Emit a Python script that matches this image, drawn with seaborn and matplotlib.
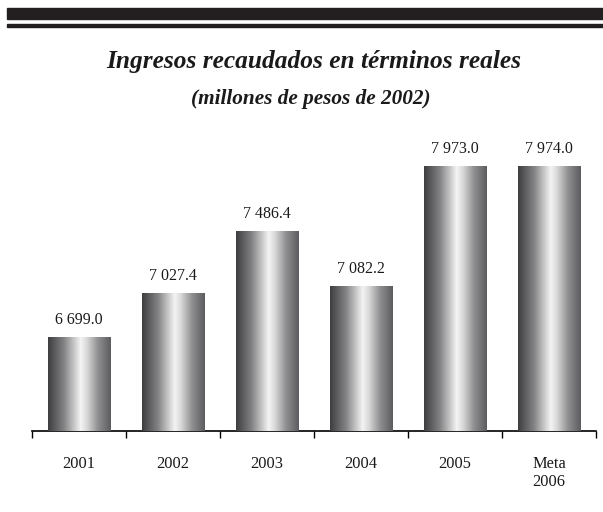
import numpy as np
import pandas as pd
import matplotlib
matplotlib.use("Agg")
import matplotlib.pyplot as plt
from matplotlib.colors import LinearSegmentedColormap
from matplotlib.patches import Rectangle
import seaborn as sns

# datos del grafico
categorias = ["2001", "2002", "2003", "2004", "2005", "Meta\n2006"]
ingresos = [6699.0, 7027.4, 7486.4, 7082.2, 7973.0, 7974.0]

titulo = "Ingresos recaudados en términos reales"
subtitulo = "(millones de pesos de 2002)"

df = pd.DataFrame({"anio": categorias, "ingresos": ingresos})

sns.set_theme(style="white")
plt.rcParams["font.family"] = ["Liberation Serif", "DejaVu Serif"]
plt.rcParams["text.color"] = "#1a1a1a"
plt.rcParams["xtick.color"] = "#1a1a1a"

fig = plt.figure(figsize=(6.03, 5.12), dpi=100)
W, H = 603, 512

# barras decorativas de la cabecera
fig.patches.append(Rectangle((7 / W, 1 - 19 / H), 596 / W, 11 / H,
                             transform=fig.transFigure, color="#231f20"))
fig.patches.append(Rectangle((7 / W, 1 - 27 / H), 596 / W, 3 / H,
                             transform=fig.transFigure, color="#231f20"))

fig.text(313.5 / W, 1 - 68 / H, titulo, ha="center", va="baseline",
         fontsize=18.3, fontweight="bold", fontstyle="italic")
fig.text(311 / W, 1 - 104 / H, subtitulo, ha="center", va="baseline",
         fontsize=15.3, fontweight="bold", fontstyle="italic")

ax = fig.add_axes([32 / W, 1 - 431 / H, 564 / W, 291 / H])
sns.barplot(data=df, x="anio", y="ingresos", color="#555555", width=0.66,
            ax=ax, saturation=1)

# degradado tipo cilindro
cmap = LinearSegmentedColormap.from_list(
    "cilindro",
    [(0.0, "#3e3e40"), (0.25, "#828284"), (0.52, "#f4f4f4"),
     (0.62, "#d8d8d8"), (0.8, "#8e8e90"), (1.0, "#5c5c60")])
grad = np.linspace(0, 1, 256).reshape(1, -1)
ymin, ymax = 6000, 8168
for p in ax.patches:
    x0, w, h = p.get_x(), p.get_width(), p.get_height()
    im = ax.imshow(grad, extent=[x0, x0 + w, ymin, h], aspect="auto",
                   cmap=cmap, zorder=3)
    im.set_clip_path(p)

for i, v in enumerate(ingresos):
    ax.annotate(f"{v:,.1f}".replace(",", " "), (i, v), xytext=(0, 6.5),
                textcoords="offset points", ha="center", va="bottom",
                fontsize=11.5)

ax.set_xlim(-0.5, len(categorias) - 0.5)
ax.set_ylim(ymin, ymax)
ax.set_xlabel("")
ax.set_ylabel("")
ax.set_yticks([])
for s in ["left", "right", "top"]:
    ax.spines[s].set_visible(False)
ax.spines["bottom"].set_linewidth(1.2)
ax.spines["bottom"].set_color("black")

ax.set_xticks(range(len(categorias)))
ax.set_xticklabels(categorias, fontsize=11.8, linespacing=1.2, va="top")
ax.set_xticks(np.arange(-0.5, len(categorias)), minor=True)
ax.tick_params(axis="x", which="major", length=0, pad=18)
ax.tick_params(axis="x", which="minor", length=5, width=1, color="black",
               direction="out", bottom=True)

fig.savefig("out.png", dpi=100)
